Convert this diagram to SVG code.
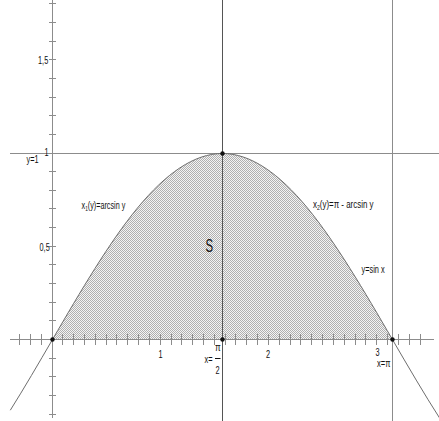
<svg xmlns="http://www.w3.org/2000/svg" width="439" height="421" viewBox="0 0 439 421">
<style>
.ax{stroke:#8c8c8c;stroke-width:1;fill:none}
.tk{stroke:#8c8c8c;stroke-width:1;fill:none}
.dk{stroke:#555;stroke-width:1;fill:none}
.cv{stroke:#6e6e6e;stroke-width:1;fill:none}
.t{font-family:"Liberation Sans",Arial,sans-serif;font-size:11.5px;fill:#111}
.sub{font-size:7.5px}
.dot{fill:#111}
.px{shape-rendering:crispEdges}
</style>
<defs>
<pattern id="hatch" width="2" height="2" patternUnits="userSpaceOnUse">
<rect class="px" width="2" height="2" fill="#f4f4f4"/>
<rect class="px" x="0" y="0" width="1" height="1" fill="#b0b0b0"/>
<rect class="px" x="1" y="1" width="1" height="1" fill="#b0b0b0"/>
</pattern>
</defs>
<rect width="439" height="421" fill="#fff"/>
<g id="region-S">
<path d="M52.5,339.5 C80.83,290.81 109.15,242.41 137.48,207.98 C165.81,173.55 194.13,153.5 222.46,153.5 C250.79,153.5 279.11,173.55 307.44,207.98 C335.77,242.41 364.09,290.81 392.42,339.5 Z" fill="url(#hatch)"/>
</g>
<g id="axes">
<line class="ax" x1="10" y1="339.5" x2="434" y2="339.5"/>
<line class="ax" x1="52.5" y1="0" x2="52.5" y2="418"/>
<line class="ax" x1="10" y1="153.5" x2="439" y2="153.5"/>
<line class="ax" x1="392.5" y1="0" x2="392.5" y2="421"/>
<line class="dk" x1="222.5" y1="0" x2="222.5" y2="421"/>
<path class="tk" d="M19.5,334v11M30.5,334v11M41.5,334v11M62.5,334v11M73.5,334v11M84.5,334v11M95.5,334v11M106.5,334v11M116.5,334v11M127.5,334v11M138.5,334v11M149.5,334v11M160.5,334v11M171.5,334v11M181.5,334v11M192.5,334v11M203.5,334v11M214.5,334v11M225.5,334v11M235.5,334v11M246.5,334v11M257.5,334v11M268.5,334v11M279.5,334v11M290.5,334v11M300.5,334v11M311.5,334v11M322.5,334v11M333.5,334v11M344.5,334v11M355.5,334v11M365.5,334v11M376.5,334v11M387.5,334v11M398.5,334v11M409.5,334v11M420.5,334v11"/>
<path class="tk" d="M49,3.5h7M49,22.5h7M49,41.5h7M49,59.5h7M49,78.5h7M49,97.5h7M49,115.5h7M49,134.5h7M49,171.5h7M49,190.5h7M49,208.5h7M49,227.5h7M49,246.5h7M49,264.5h7M49,283.5h7M49,302.5h7M49,320.5h7M49,358.5h7M49,376.5h7M49,395.5h7M49,414.5h7"/>
</g>
<g id="curve">
<path class="cv" d="M10.3,410.22 C24.37,387.86 38.43,363.68 52.5,339.5 C80.83,290.81 109.15,242.41 137.48,207.98 C165.81,173.55 194.13,153.5 222.46,153.5 C250.79,153.5 279.11,173.55 307.44,207.98 C335.77,242.41 364.09,290.81 392.42,339.5 C408.29,366.78 424.16,394.03 440.03,418.72"/>
</g>
<g id="points">
<circle class="dot" cx="52.5" cy="339.5" r="2.2"/>
<circle class="dot" cx="222.5" cy="153.5" r="2.2"/>
<circle class="dot" cx="222.5" cy="339.5" r="2.2"/>
<circle class="dot" cx="392.5" cy="339.5" r="2.2"/>
</g>
<g id="labels">
<text class="t" transform="translate(38,64) scale(0.64,1)">1,5</text>
<text class="t" transform="translate(44.5,156) scale(0.64,1)">1</text>
<text class="t" transform="translate(26.5,162.5) scale(0.64,1)">y=1</text>
<text class="t" transform="translate(39.5,250.5) scale(0.64,1)">0,5</text>
<text class="t" transform="translate(158.5,357.5) scale(0.64,1)">1</text>
<text class="t" transform="translate(266,357.5) scale(0.64,1)">2</text>
<text class="t" transform="translate(375.5,355.5) scale(0.64,1)">3</text>
<text class="t" transform="translate(215,351) scale(0.72,1)">π</text>
<text class="t" transform="translate(204.5,363) scale(0.64,1)">x=</text>
<line x1="215" y1="358.5" x2="220.5" y2="358.5" stroke="#111" stroke-width="1"/>
<text class="t" transform="translate(215.5,374) scale(0.64,1)">2</text>
<text class="t" transform="translate(377,367) scale(0.66,1)">x=π</text>
<text class="t" transform="translate(81.5,208.5) scale(0.63,1)">x<tspan class="sub" dy="2.5">1</tspan><tspan dy="-2.5">(y)=arcsin y</tspan></text>
<text class="t" transform="translate(313,207.5) scale(0.69,1)">x<tspan class="sub" dy="2.5">2</tspan><tspan dy="-2.5">(y)=π - arcsin y</tspan></text>
<text class="t" transform="translate(361.5,272.5) scale(0.64,1)">y=sin x</text>
<text transform="translate(205.5,251.5) scale(0.6,1)" style="font-family:'Liberation Sans',Arial,sans-serif;font-size:19px;fill:#111">S</text>
</g>
</svg>
